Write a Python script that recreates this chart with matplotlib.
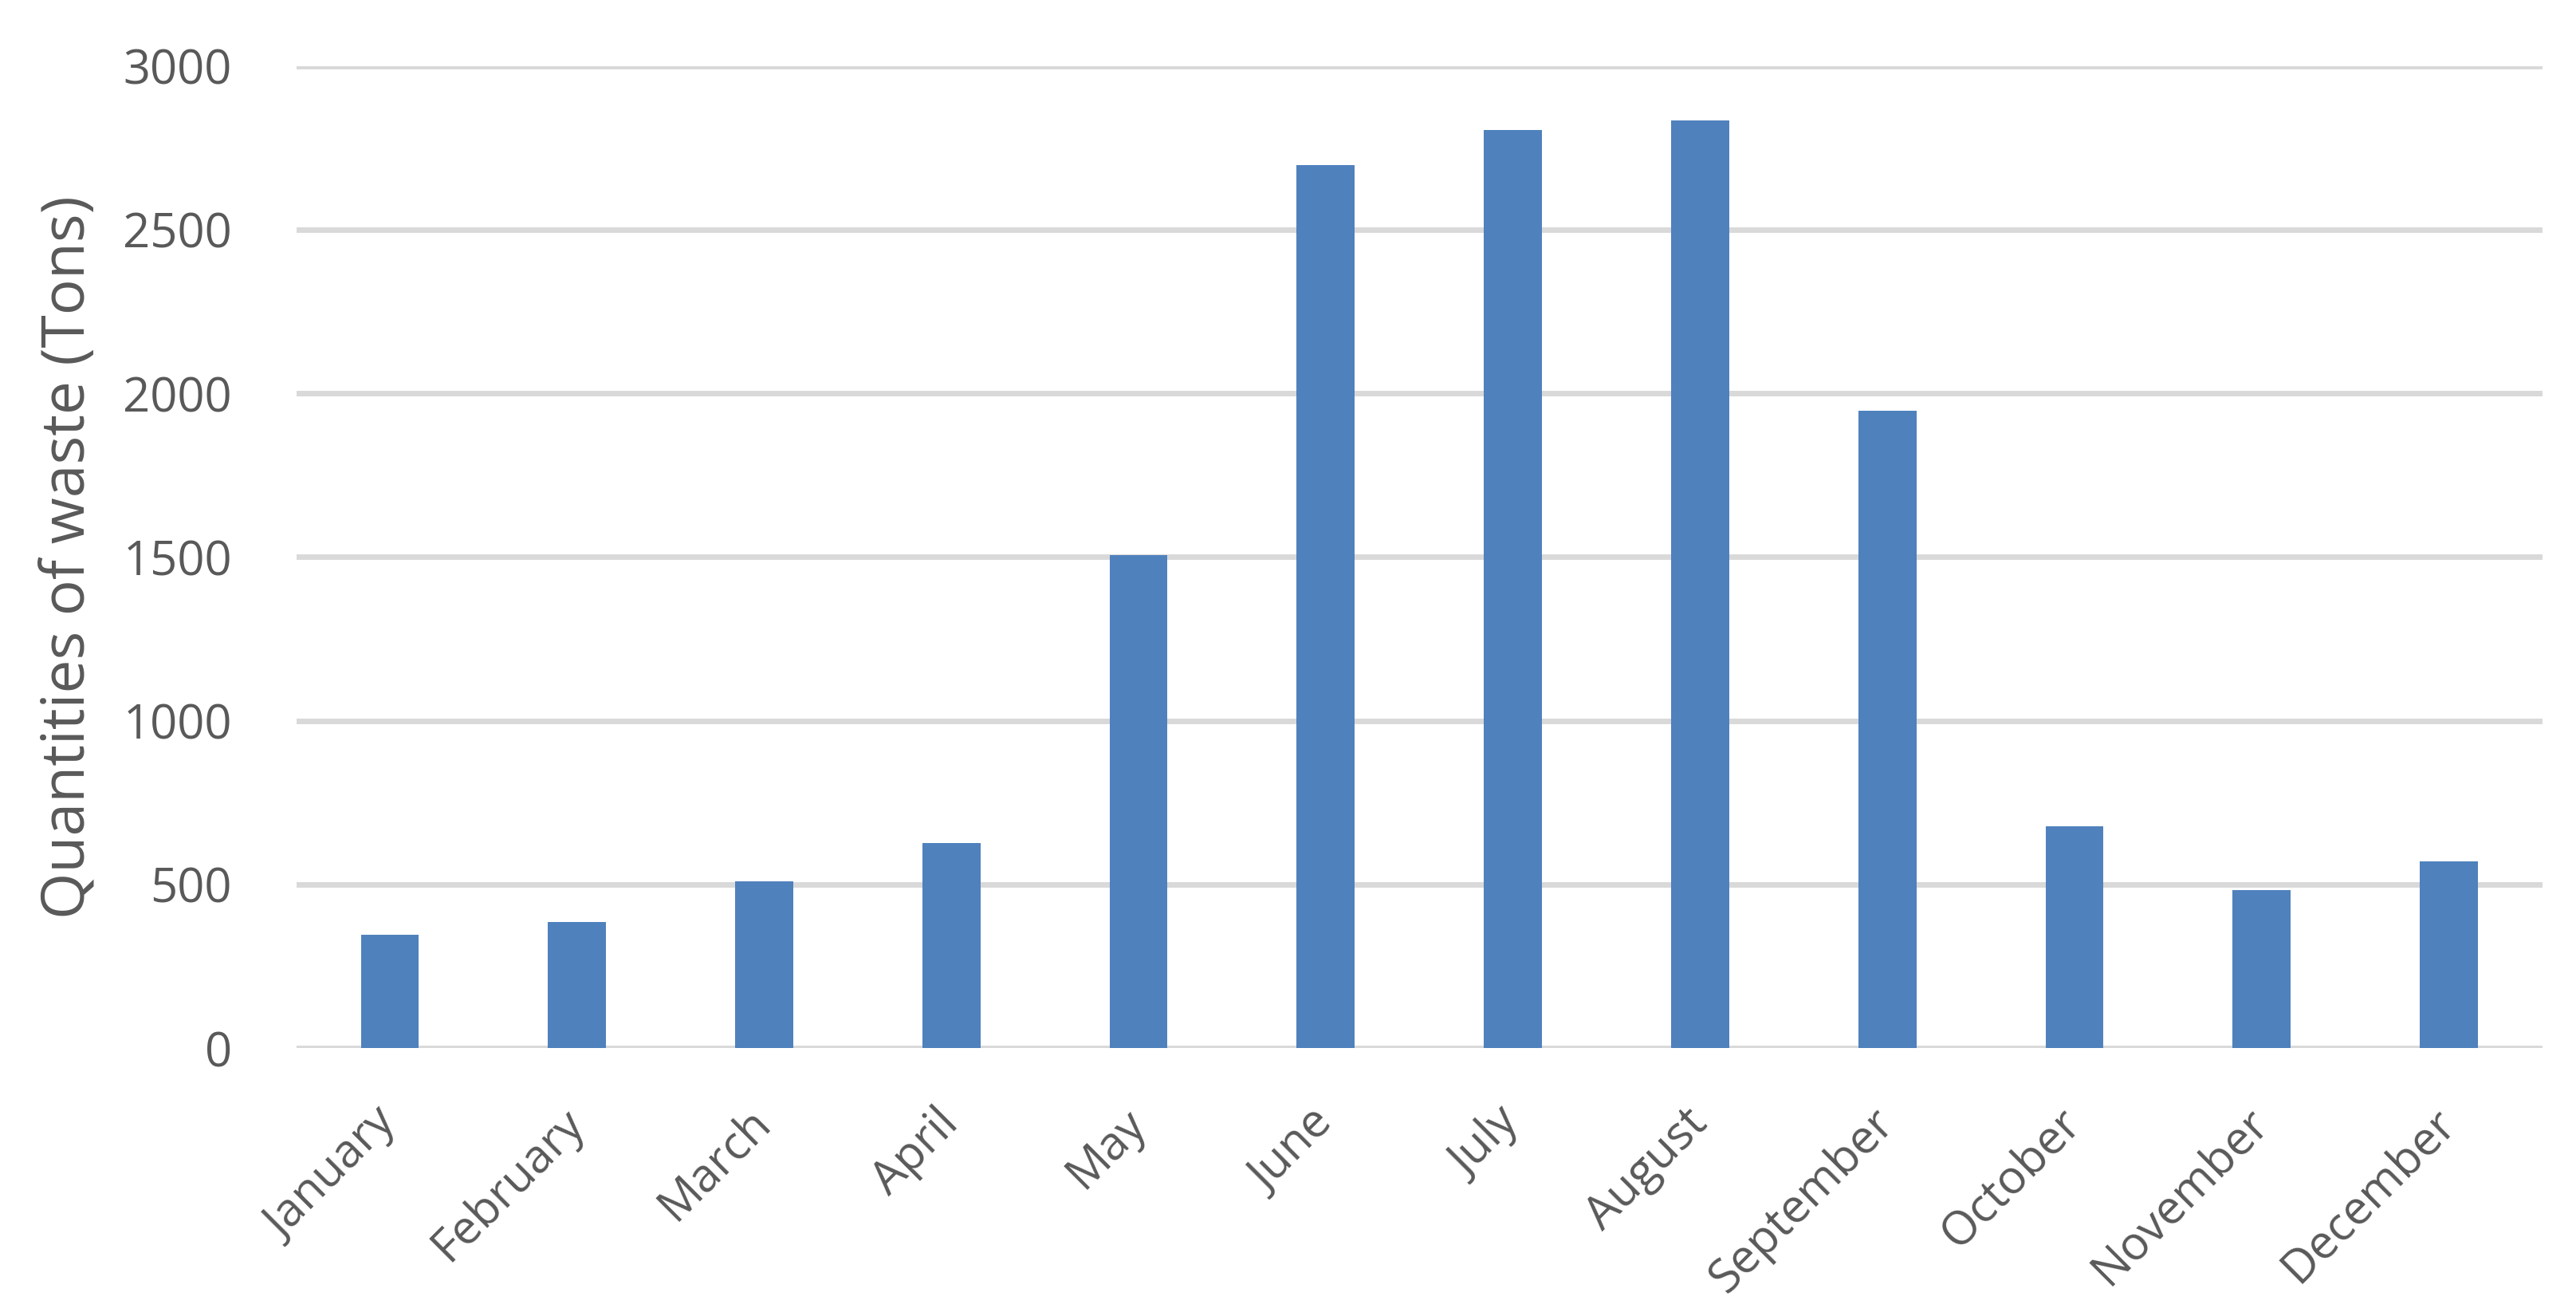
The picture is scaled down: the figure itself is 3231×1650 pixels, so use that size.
import matplotlib
matplotlib.use("Agg")
import matplotlib.pyplot as plt

# monthly waste quantities (tons)
months = ["January", "February", "March", "April", "May", "June",
          "July", "August", "September", "October", "November", "December"]
waste = [346, 385, 510, 626, 1505, 2696, 2803, 2832, 1946, 677, 482, 571]
yticks = [0, 500, 1000, 1500, 2000, 2500, 3000]

plt.rcParams['font.family'] = ['Open Sans', 'DejaVu Sans']
text_color = '#595959'
grid_color = '#d9d9d9'

fig = plt.figure(figsize=(32.31, 16.5), dpi=100)
ax = fig.add_axes([0.115, 0.2036, 0.872, 0.7464])

x = list(range(len(months)))
ax.bar(x, waste, width=0.31, color='#4f81bd', zorder=3)

ax.set_xlim(-0.5, len(months) - 0.5)
ax.set_ylim(0, 3000)
ax.set_yticks(yticks)
ax.set_yticklabels([str(t) for t in yticks], fontsize=43, color=text_color)
ax.yaxis.grid(True, color=grid_color, linewidth=5, zorder=0)
ax.set_axisbelow(True)

ax.set_xticks(x)
ax.set_xticklabels(months, fontsize=42, color=text_color, rotation=45,
                   ha='right', va='center', rotation_mode='anchor')
ax.tick_params(axis='both', length=0)
ax.tick_params(axis='x', pad=62)
ax.tick_params(axis='y', pad=58)

for s in ax.spines.values():
    s.set_visible(False)

ax.set_ylabel("Quantities of waste (Tons)", fontsize=54, color=text_color, labelpad=22)

fig.savefig("out.png", dpi=100, facecolor='white')
